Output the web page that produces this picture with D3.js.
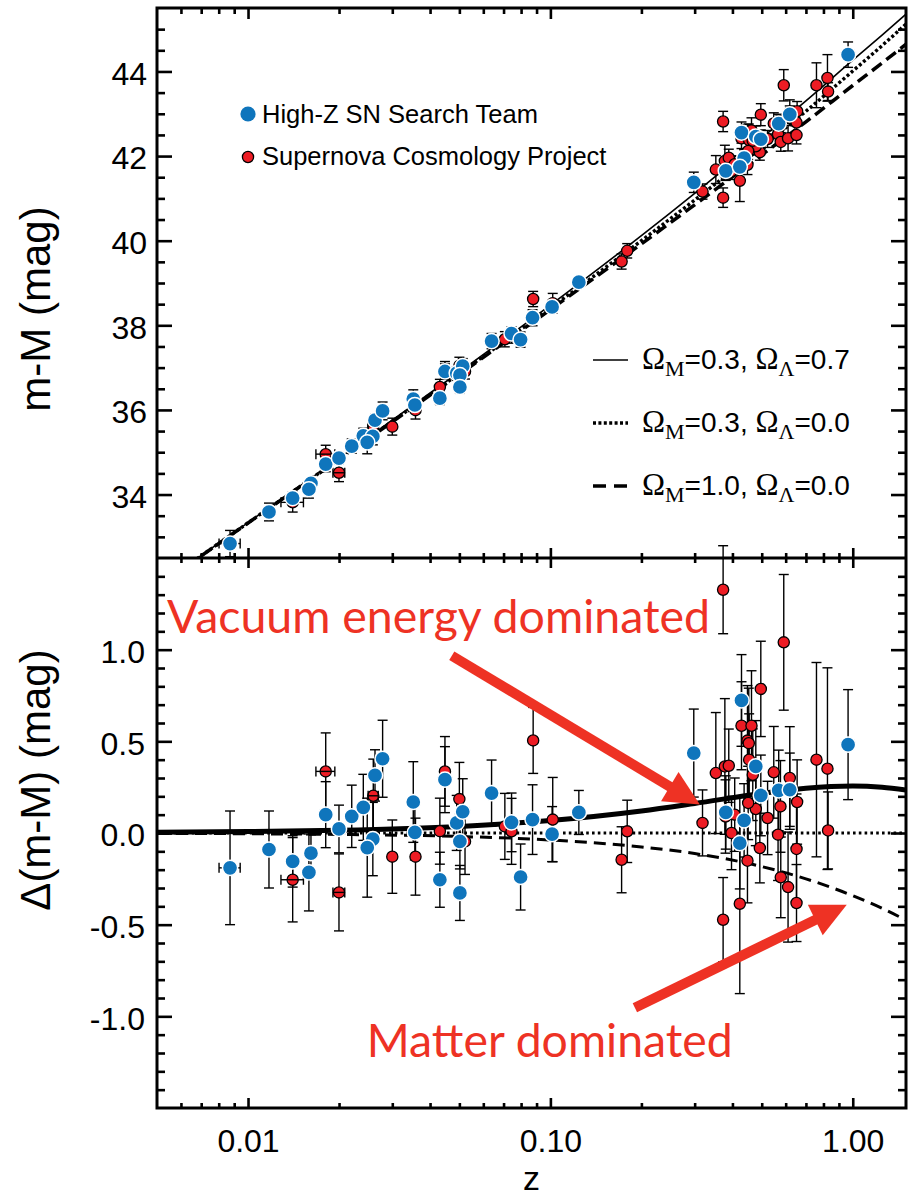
<!DOCTYPE html>
<html><head><meta charset="utf-8">
<script src="https://cdn.jsdelivr.net/npm/d3@7"></script>
<style>
body{margin:0;background:#fff;}
svg{display:block;}
</style></head><body>
<svg id="chart" width="912" height="1198" font-family="Liberation Sans, Arial, Helvetica, sans-serif"></svg>
<script>
// ---------------- DATA ----------------
// High-Z SN Search Team (blue): redshift, residual vs. (0.3,0.0) model, error
const hzZ    = [0.00872,0.01173,0.01405,0.01615,0.0159,0.01807,0.01999,0.02203,0.02406,0.0263,0.02787,0.02587,0.02479,0.0352,0.03563,0.0448,0.0431,0.0490,0.0513,0.0502,0.0502,0.0639,0.0744,0.0797,0.0873,0.1013,0.1242,0.298,0.4286,0.4779,0.965,0.4965,0.569,0.619,0.3803,0.4372,0.4231];
const hzDmu  = [-0.19,-0.09,-0.155,-0.11,-0.215,0.10,0.022,0.091,0.14,0.314,0.405,-0.033,-0.08,0.169,0.003,0.291,-0.255,0.055,0.116,-0.046,-0.327,0.218,0.058,-0.24,0.073,-0.006,0.112,0.436,0.723,0.363,0.482,0.205,0.232,0.236,0.112,0.069,-0.055];
const hzErr  = [0.31,0.21,0.14,0.10,0.21,0.18,0.13,0.17,0.18,0.14,0.21,0.20,0.27,0.22,0.15,0.18,0.15,0.15,0.18,0.15,0.15,0.18,0.16,0.18,0.19,0.15,0.12,0.24,0.25,0.25,0.30,0.22,0.22,0.20,0.20,0.20,0.25];
const hzZerr = [0.0007,0,0,0,0,0,0,0,0,0,0,0,0,0,0,0,0,0,0,0,0,0,0,0,0,0,0,0,0,0,0,0,0,0,0,0,0];

// Supernova Cosmology Project (red)
const scpZ    = [0.01405,0.01807,0.01999,0.02596,0.0300,0.0358,0.0448,0.0431,0.0500,0.0522,0.0707,0.0744,0.0877,0.1018,0.1795,0.172,0.3726,0.5913,0.4965,0.4286,0.4625,0.4485,0.453,0.4543,0.3525,0.3776,0.389,0.548,0.7586,0.8248,0.619,0.6546,0.3185,0.3726,0.4231,0.4485,0.4928,0.5228,0.4779,0.4509,0.3972,0.5662,0.5766,0.578,0.611,0.6516,0.6516,0.8287,0.3795,0.467,0.407];
const scpDmu  = [-0.255,0.336,-0.324,0.203,-0.129,-0.129,0.336,0.010,0.185,-0.046,0.036,0.009,0.505,0.073,0.009,-0.146,1.327,1.040,0.786,0.585,0.585,0.504,0.490,0.400,0.327,0.363,0.367,0.331,0.400,0.351,0.300,0.169,0.055,-0.473,-0.386,-0.151,-0.082,0.082,0.131,0.164,0.000,-0.009,0.145,-0.242,-0.295,-0.382,-0.087,0.014,0.090,0.318,0.100];
const scpErr  = [0.23,0.21,0.21,0.20,0.20,0.21,0.19,0.18,0.20,0.18,0.18,0.18,0.18,0.23,0.17,0.18,0.24,0.37,0.26,0.24,0.30,0.30,0.30,0.25,0.33,0.37,0.20,0.25,0.53,0.55,0.28,0.23,0.18,0.23,0.49,0.23,0.19,0.20,0.20,0.20,0.20,0.25,0.25,0.22,0.30,0.21,0.30,0.21,0.20,0.25,0.20];
const scpZerr = [0.0012,0.0013,0.0009,0.001,0,0,0,0,0,0,0,0,0,0,0,0,0,0,0,0,0,0,0,0,0,0,0,0,0,0,0,0,0,0,0,0,0,0,0,0,0,0,0,0,0,0,0,0,0,0,0];

// Model curves
const modelZ   = [0.005,0.01,0.02,0.05,0.1,0.2,0.3,0.5,0.7,1.0,1.25,1.5];
const muOpen   = [31.82,33.33,34.84,36.86,38.41,40.00,40.96,42.21,43.06,44.01,44.61,45.12]; // OmM=0.3, OmL=0.0 (m-M)
const dLambda  = [0.004,0.008,0.015,0.036,0.068,0.120,0.161,0.216,0.244,0.256,0.249,0.234];   // OmM=0.3, OmL=0.7
const dOpen    = [0,0,0,0,0,0,0,0,0,0,0,0];                                                   // OmM=0.3, OmL=0.0
const dMatter  = [-0.002,-0.004,-0.008,-0.019,-0.038,-0.076,-0.112,-0.183,-0.250,-0.342,-0.411,-0.475]; // OmM=1.0, OmL=0.0

// Ticks
const xMajor = [0.01,0.1,1];
const xMajorLabels = ["0.01","0.10","1.00"];
const xMinor = [0.006,0.007,0.008,0.009,0.02,0.03,0.04,0.05,0.06,0.07,0.08,0.09,0.2,0.3,0.4,0.5,0.6,0.7,0.8,0.9];
const yTopMajor = [34,36,38,40,42,44];
const yTopMinor = [33,33.5,34.5,35,35.5,36.5,37,37.5,38.5,39,39.5,40.5,41,41.5,42.5,43,43.5,44.5,45];
const yBotMajor = [-1.0,-0.5,0.0,0.5,1.0];
const yBotMajorLabels = ["-1.0","-0.5","0.0","0.5","1.0"];
const yBotMinor = [-1.4,-1.3,-1.2,-1.1,-0.9,-0.8,-0.7,-0.6,-0.4,-0.3,-0.2,-0.1,0.1,0.2,0.3,0.4,0.6,0.7,0.8,0.9,1.1,1.2,1.3,1.4];

// Annotations (data coordinates of bottom panel)
const arrowVac = {z0:0.0472, d0:0.967, z1:0.312, d1:0.155};
const arrowMat = {z0:0.1903, d0:-0.953, z1:0.9554, d1:-0.391};
const textVac = {z:0.0054, d:1.093, t:"Vacuum energy dominated"};
const textMat = {z:0.0247, d:-1.22, t:"Matter dominated"};

// ---------------- LAYOUT ----------------
const L=157, R=906, T=8, MID=558, B=1108;
const BLUE="#0f75bc", RED="#ed1c24", ANN="#ee3224";
const SANS="Liberation Sans, Arial, Helvetica, sans-serif";
const SERIF="Liberation Serif, Times New Roman, serif";
const svg=d3.select("#chart");

const x  = d3.scaleLog().domain([0.005,1.5]).range([L,R]);
const yT = d3.scaleLinear().domain([32.5,45.5]).range([MID,T]);
const yB = d3.scaleLinear().domain([-1.5,1.5]).range([B,MID]);
const muRef = d3.scaleLog().domain(modelZ).range(muOpen);

const hz  = hzZ.map((z,i)=>({z, d:hzDmu[i], e:hzErr[i], ze:hzZerr[i]}));
const scp = scpZ.map((z,i)=>({z, d:scpDmu[i], e:scpErr[i], ze:scpZerr[i]}));

const defs=svg.append("defs");
defs.append("clipPath").attr("id","clipT").append("rect").attr("x",L).attr("y",T).attr("width",R-L).attr("height",MID-T);
defs.append("clipPath").attr("id","clipB").append("rect").attr("x",L).attr("y",MID).attr("width",R-L).attr("height",B-MID);

// ---------- Axes ----------
function styleAxis(g){ g.select(".domain").remove(); g.selectAll("line").attr("stroke","#000").attr("stroke-width",2.6); g.selectAll("text").attr("font-size",32).attr("fill","#000").attr("font-family",SANS); }

// top panel
svg.append("g").attr("transform",`translate(${L},0)`).call(d3.axisLeft(yT).tickValues(yTopMinor).tickSize(-8).tickFormat("")).call(styleAxis);
svg.append("g").attr("transform",`translate(${L},0)`).call(d3.axisLeft(yT).tickValues(yTopMajor).tickSize(-15).tickPadding(10).tickFormat(d3.format("d"))).call(styleAxis).selectAll("text").attr("dy","0.4em");
svg.append("g").attr("transform",`translate(${R},0)`).call(d3.axisRight(yT).tickValues(yTopMinor).tickSize(-8).tickFormat("")).call(styleAxis);
svg.append("g").attr("transform",`translate(${R},0)`).call(d3.axisRight(yT).tickValues(yTopMajor).tickSize(-15).tickFormat("")).call(styleAxis);
svg.append("g").attr("transform",`translate(0,${T})`).call(d3.axisTop(x).tickValues(xMinor).tickSize(-6).tickFormat("")).call(styleAxis);
svg.append("g").attr("transform",`translate(0,${T})`).call(d3.axisTop(x).tickValues(xMajor).tickSize(-11).tickFormat("")).call(styleAxis);
svg.append("g").attr("transform",`translate(0,${MID})`).call(d3.axisBottom(x).tickValues(xMinor).tickSize(-5).tickFormat("")).call(styleAxis);
svg.append("g").attr("transform",`translate(0,${MID})`).call(d3.axisBottom(x).tickValues(xMajor).tickSize(-10).tickFormat("")).call(styleAxis);

// bottom panel
svg.append("g").attr("transform",`translate(${L},0)`).call(d3.axisLeft(yB).tickValues(yBotMinor).tickSize(-8).tickFormat("")).call(styleAxis);
svg.append("g").attr("transform",`translate(${L},0)`).call(d3.axisLeft(yB).tickValues(yBotMajor).tickSize(-15).tickPadding(12).tickFormat((d,i)=>yBotMajorLabels[i])).call(styleAxis).selectAll("text").attr("dy","0.4em");
svg.append("g").attr("transform",`translate(${R},0)`).call(d3.axisRight(yB).tickValues(yBotMinor).tickSize(-8).tickFormat("")).call(styleAxis);
svg.append("g").attr("transform",`translate(${R},0)`).call(d3.axisRight(yB).tickValues(yBotMajor).tickSize(-15).tickFormat("")).call(styleAxis);
svg.append("g").attr("transform",`translate(0,${MID})`).call(d3.axisTop(x).tickValues(xMinor).tickSize(-5).tickFormat("")).call(styleAxis);
svg.append("g").attr("transform",`translate(0,${MID})`).call(d3.axisTop(x).tickValues(xMajor).tickSize(-10).tickFormat("")).call(styleAxis);
svg.append("g").attr("transform",`translate(0,${B})`).call(d3.axisBottom(x).tickValues(xMinor).tickSize(-5).tickFormat("")).call(styleAxis);
svg.append("g").attr("transform",`translate(0,${B})`).call(d3.axisBottom(x).tickValues(xMajor).tickSize(-10).tickPadding(21).tickFormat((d,i)=>xMajorLabels[i])).call(styleAxis);

// frames
svg.append("rect").attr("x",L).attr("y",T).attr("width",R-L).attr("height",B-T).attr("fill","none").attr("stroke","#000").attr("stroke-width",3);
svg.append("line").attr("x1",L).attr("x2",R).attr("y1",MID).attr("y2",MID).attr("stroke","#000").attr("stroke-width",3);

// axis titles
svg.append("text").attr("transform","translate(50,309) rotate(-90)").attr("text-anchor","middle").attr("font-size",42).text("m-M (mag)");
svg.append("text").attr("transform","translate(50,780) rotate(-90)").attr("text-anchor","middle").attr("font-size",42).text("\u0394(m-M) (mag)");
svg.append("text").attr("x",(L+R)/2).attr("y",1190).attr("text-anchor","middle").attr("font-size",34).text("z");

// ---------- Model curves ----------
const models = [
  {d:dLambda, topW:1.6, topDash:null,   botW:5, botDash:null},
  {d:dOpen,   topW:3.4, topDash:"3,2.4",botW:3, botDash:"2.6,3.2"},
  {d:dMatter, topW:3.5, topDash:"12,6", botW:3, botDash:"12,7"}
];
const gTopLines = svg.append("g").attr("clip-path","url(#clipT)");
const gBotLines = svg.append("g").attr("clip-path","url(#clipB)");
models.forEach(m=>{
  const ptsTop = modelZ.map((z,i)=>({z, v:muOpen[i]+m.d[i]}));
  const ptsBot = modelZ.map((z,i)=>({z, v:m.d[i]}));
  gTopLines.append("path").attr("d",d3.line().x(p=>x(p.z)).y(p=>yT(p.v)).curve(d3.curveMonotoneX)(ptsTop))
    .attr("fill","none").attr("stroke","#000").attr("stroke-width",m.topW).attr("stroke-dasharray",m.topDash);
  gBotLines.append("path").attr("d",d3.line().x(p=>x(p.z)).y(p=>yB(p.v)).curve(d3.curveMonotoneX)(ptsBot))
    .attr("fill","none").attr("stroke","#000").attr("stroke-width",m.botW).attr("stroke-dasharray",m.botDash);
});

// ---------- Points ----------
function errBars(g, data, xf, yf){
  const cap=5;
  const eg=g.append("g").attr("stroke","#000").attr("stroke-width",1.4);
  data.forEach(p=>{
    const px=xf(p.z), y1=yf(p.v-p.e), y2=yf(p.v+p.e);
    eg.append("line").attr("x1",px).attr("x2",px).attr("y1",y1).attr("y2",y2);
    eg.append("line").attr("x1",px-cap).attr("x2",px+cap).attr("y1",y1).attr("y2",y1);
    eg.append("line").attr("x1",px-cap).attr("x2",px+cap).attr("y1",y2).attr("y2",y2);
  });
}
function zBars(g, data, xf, yf){
  const cap=5;
  const eg=g.append("g").attr("stroke","#000").attr("stroke-width",1.4);
  data.filter(p=>p.ze>0).forEach(p=>{
    const py=yf(p.v), x1=xf(p.z-p.ze), x2=xf(p.z+p.ze);
    eg.append("line").attr("x1",x1).attr("x2",x2).attr("y1",py).attr("y2",py);
    eg.append("line").attr("x1",x1).attr("x2",x1).attr("y1",py-cap).attr("y2",py+cap);
    eg.append("line").attr("x1",x2).attr("x2",x2).attr("y1",py-cap).attr("y2",py+cap);
  });
}
function panel(yf, valueFn){
  const g=svg.append("g");
  const h=hz.map(p=>({z:p.z, v:valueFn(p), e:p.e, ze:p.ze}));
  const s=scp.map(p=>({z:p.z, v:valueFn(p), e:p.e, ze:p.ze}));
  errBars(g, s, x, yf);
  errBars(g, h, x, yf);
  g.append("g").selectAll("circle").data(s).join("circle")
    .attr("cx",p=>x(p.z)).attr("cy",p=>yf(p.v)).attr("r",5.6)
    .attr("fill",RED).attr("stroke","#000").attr("stroke-width",1.3);
  zBars(g, s, x, yf);
  zBars(g, h, x, yf);
  g.append("g").selectAll("circle").data(h).join("circle")
    .attr("cx",p=>x(p.z)).attr("cy",p=>yf(p.v)).attr("r",7.6)
    .attr("fill",BLUE).attr("stroke","#fff").attr("stroke-width",1.5);
}
panel(yT, p=>muRef(p.z)+p.d);
panel(yB, p=>p.d);

// ---------- Legends ----------
svg.append("circle").attr("cx",248).attr("cy",114).attr("r",7.6).attr("fill",BLUE);
svg.append("text").attr("x",262).attr("y",123).attr("font-size",25.5).text("High-Z SN Search Team");
svg.append("circle").attr("cx",248).attr("cy",157).attr("r",5.6).attr("fill",RED).attr("stroke","#000").attr("stroke-width",1.3);
svg.append("text").attr("x",262).attr("y",165).attr("font-size",25.5).text("Supernova Cosmology Project");

const leg = [
  {y:360, dash:null, w:1.6, om:"0.3", ol:"0.7"},
  {y:423, dash:"3,2.4", w:3.4, om:"0.3", ol:"0.0"},
  {y:486, dash:"13,8", w:3.5, om:"1.0", ol:"0.0"}
];
leg.forEach(l=>{
  svg.append("line").attr("x1",593).attr("x2",628).attr("y1",l.y).attr("y2",l.y)
    .attr("stroke","#000").attr("stroke-width",l.w).attr("stroke-dasharray",l.dash);
  const t=svg.append("text").attr("x",642).attr("y",l.y+8.5).attr("font-size",28).attr("font-family",SANS);
  t.append("tspan").attr("font-family",SERIF).attr("font-size",31).text("\u03A9");
  t.append("tspan").attr("font-family",SERIF).attr("font-size",22).attr("dy",7).text("M");
  t.append("tspan").attr("font-family",SANS).attr("font-size",28).attr("dy",-7).text("="+l.om+", ");
  t.append("tspan").attr("font-family",SERIF).attr("font-size",31).text("\u03A9");
  t.append("tspan").attr("font-family",SERIF).attr("font-size",22).attr("dy",7).text("\u039B");
  t.append("tspan").attr("font-family",SANS).attr("font-size",28).attr("dy",-7).text("="+l.ol);
});

// ---------- Annotations ----------
function arrow(a){
  const x0=x(a.z0), y0=yB(a.d0), x1=x(a.z1), y1=yB(a.d1);
  const ang=Math.atan2(y1-y0,x1-x0), ux=Math.cos(ang), uy=Math.sin(ang);
  const hl=35, hw=17;
  const bx=x1-hl*ux, by=y1-hl*uy;
  svg.append("line").attr("x1",x0).attr("y1",y0).attr("x2",bx+2*ux).attr("y2",by+2*uy)
    .attr("stroke",ANN).attr("stroke-width",10);
  svg.append("path").attr("d",`M${x1},${y1}L${bx-hw*uy},${by+hw*ux}L${bx+hw*uy},${by-hw*ux}Z`).attr("fill",ANN);
}
arrow(arrowVac); arrow(arrowMat);
const ANNFONT="Lato, Open Sans, sans-serif";
svg.append("text").attr("x",x(textVac.z)).attr("y",yB(textVac.d)).attr("font-family",ANNFONT)
  .attr("font-size",46).attr("fill",ANN).attr("textLength",543).attr("lengthAdjust","spacingAndGlyphs").text(textVac.t);
svg.append("text").attr("x",x(textMat.z)).attr("y",yB(textMat.d)).attr("font-family",ANNFONT)
  .attr("font-size",46).attr("fill",ANN).attr("textLength",366).attr("lengthAdjust","spacingAndGlyphs").text(textMat.t);
</script>
</body></html>
